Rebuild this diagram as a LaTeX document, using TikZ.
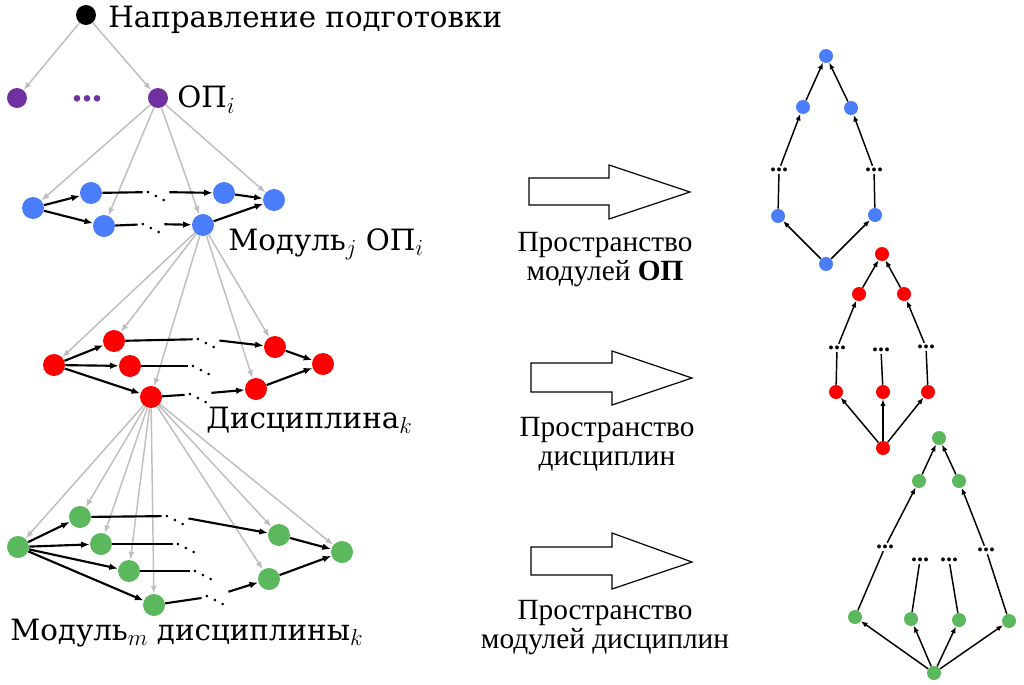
\documentclass[tikz,border=0pt]{standalone}
\usepackage{fontspec}
\setmainfont{Liberation Serif}
\newfontfamily\labelfont{DejaVu Serif}
\usetikzlibrary{arrows.meta}

\definecolor{opviolet}{RGB}{112,48,160}
\definecolor{modblue}{RGB}{74,125,250}
\definecolor{discred}{RGB}{255,0,0}
\definecolor{dmgreen}{RGB}{92,184,92}
\definecolor{linkgray}{RGB}{190,190,190}

\newcommand\idx[1]{\raisebox{-0.35ex}{\fontsize{17}{17}\selectfont$#1$}}

\tikzset{
  vert/.style={circle, inner sep=0pt, minimum size=16.5pt},
  svert/.style={circle, inner sep=0pt, minimum size=10.5pt},
  sub/.style={-{Latex[length=6pt,width=4.5pt]}, draw=linkgray, line width=1.1pt},
  seq/.style={-{Latex[length=6.5pt,width=5pt]}, line width=1.6pt},
  seqline/.style={line width=1.6pt},
  ord/.style={-{Latex[length=5pt,width=4pt]}, line width=1.1pt},
  ordline/.style={line width=1.1pt},
  ddts/.style={inner sep=1pt, font=\fontsize{16}{16}\selectfont},
  cdts/.style={inner sep=1.5pt, font=\fontsize{18}{18}\selectfont\bfseries},
  biglabel/.style={font=\labelfont\fontsize{22}{22}\selectfont, inner sep=0pt},
  spacelabel/.style={font=\fontsize{22}{22}\selectfont, align=center, inner sep=0pt, anchor=north},
  bigarrow/.style={draw=black, line width=0.9pt, fill=white}
}

\begin{document}
\begin{tikzpicture}[x=0.75pt, y=-0.75pt]
    \useasboundingbox (0,0) rectangle (1024,685);

    % hierarchy on the left
    \node[vert, fill=black, minimum size=15pt] (dir) at (86,15) {};
    \node[biglabel, anchor=base west] (dirlbl) at (108,28) {Направление подготовки};
    \node[vert, fill=opviolet, minimum size=15pt] (opa) at (17,98) {};
    \node[vert, fill=opviolet, minimum size=15pt] (opi) at (158,98) {};
    \node[text=opviolet, font=\fontsize{30}{30}\selectfont\bfseries, inner sep=0pt, anchor=base] (opdots) at (87,102) {...};
    \node[biglabel, anchor=base west] (oplbl) at (177,108) {ОП\idx{i}};
    \draw[sub] (dir) -- (opa);
    \draw[sub] (dir) -- (opi);

    % modules of OP
    \node[vert, fill=modblue] (b1) at (33,208) {};
    \node[vert, fill=modblue] (b2) at (91,193) {};
    \node[vert, fill=modblue] (b3) at (104,226) {};
    \node[vert, fill=modblue] (b4) at (224,193) {};
    \node[vert, fill=modblue] (b5) at (203,225) {};
    \node[vert, fill=modblue] (b6) at (274,200) {};
    \node[ddts] (bd1) at (156,192) {$\ddots$};
    \node[ddts] (bd2) at (151,224) {$\ddots$};
    \node[biglabel, anchor=base west] (modlbl) at (228,250) {Модуль\idx{j} ОП\idx{i}};
    \foreach \t in {b1,b3,b5,b6} \draw[sub] (opi) -- (\t);
    \draw[seq] (b1) -- (b2);
    \draw[seq] (b1) -- (b3);
    \draw[seqline] (b2) -- (bd1);
    \draw[seq] (bd1) -- (b4);
    \draw[seqline] (b3) -- (bd2);
    \draw[seq] (bd2) -- (b5);
    \draw[seq] (b4) -- (b6);
    \draw[seq] (b5) -- (b6);

    % disciplines
    \node[vert, fill=discred] (r1) at (54,365) {};
    \node[vert, fill=discred] (r2) at (114,341) {};
    \node[vert, fill=discred] (r3) at (130,366) {};
    \node[vert, fill=discred] (r4) at (151,397) {};
    \node[vert, fill=discred] (r5) at (275,347) {};
    \node[vert, fill=discred] (r6) at (323,364) {};
    \node[vert, fill=discred] (r7) at (256,389) {};
    \node[ddts] (rd1) at (206,339) {$\ddots$};
    \node[ddts] (rd2) at (201,366) {$\ddots$};
    \node[ddts] (rd3) at (198,394) {$\ddots$};
    \node[biglabel, anchor=base west] (disclbl) at (206,428) {Дисциплина\idx{k}};
    \foreach \t in {r1,r2,r4,r5,r7} \draw[sub] (b5) -- (\t);
    \draw[seq] (r1) -- (r2);
    \draw[seq] (r1) -- (r3);
    \draw[seq] (r1) -- (r4);
    \draw[seqline] (r2) -- (rd1);
    \draw[seq] (rd1) -- (r5);
    \draw[seqline] (r3) -- (rd2);
    \draw[seqline] (r4) -- (rd3);
    \draw[seq] (rd3) -- (r7);
    \draw[seq] (r5) -- (r6);
    \draw[seq] (r7) -- (r6);

    % modules of a discipline
    \node[vert, fill=dmgreen] (g1) at (18,547) {};
    \node[vert, fill=dmgreen] (g2) at (80,517) {};
    \node[vert, fill=dmgreen] (g3) at (101,544) {};
    \node[vert, fill=dmgreen] (g4) at (129,571) {};
    \node[vert, fill=dmgreen] (g5) at (154,605) {};
    \node[vert, fill=dmgreen] (g6) at (279,535) {};
    \node[vert, fill=dmgreen] (g7) at (342,552) {};
    \node[vert, fill=dmgreen] (g8) at (269,579) {};
    \node[ddts] (gd1) at (175,516) {$\ddots$};
    \node[ddts] (gd2) at (186,544) {$\ddots$};
    \node[ddts] (gd3) at (203,571) {$\ddots$};
    \node[ddts] (gd4) at (215,596) {$\ddots$};
    \node[biglabel, anchor=base west] (dmlbl) at (10,640) {Модуль\idx{m} дисциплины\idx{k}};
    \foreach \t in {g1,g2,g3,g4,g5,g6,g7,g8} \draw[sub] (r4) -- (\t);
    \foreach \t in {g2,g3,g4,g5} \draw[seq] (g1) -- (\t);
    \draw[seqline] (g2) -- (gd1);
    \draw[seq] (gd1) -- (g6);
    \draw[seqline] (g3) -- (gd2);
    \draw[seqline] (g4) -- (gd3);
    \draw[seqline] (g5) -- (gd4);
    \draw[seq] (gd4) -- (g8);
    \draw[seq] (g6) -- (g7);
    \draw[seq] (g8) -- (g7);

    % block arrows with captions
    \draw[bigarrow] (529,178) -- (609,178) -- (609,165) -- (690,192) -- (609,219) -- (609,205) -- (529,205) -- cycle;
    \node[spacelabel] (sp1) at (605,232) {Пространство\\модулей \textbf{ОП}};
    \draw[bigarrow] (531,363) -- (612,363) -- (612,351) -- (692,378) -- (612,405) -- (612,392) -- (531,392) -- cycle;
    \node[spacelabel] (sp2) at (607,417) {Пространство\\дисциплин};
    \draw[bigarrow] (531,547) -- (612,547) -- (612,533) -- (692,562) -- (612,589) -- (612,575) -- (531,575) -- cycle;
    \node[spacelabel] (sp3) at (605,600) {Пространство\\модулей дисциплин};

    % space of OP modules
    \node[svert, fill=modblue] (ut) at (826,56) {};
    \node[svert, fill=modblue] (ul2) at (803,107) {};
    \node[svert, fill=modblue] (ur2) at (851,108) {};
    \node[cdts] (uld) at (779,170) {...};
    \node[cdts] (urd) at (874,170) {...};
    \node[svert, fill=modblue] (ul3) at (778,216) {};
    \node[svert, fill=modblue] (ur3) at (875,215) {};
    \node[svert, fill=modblue] (ub) at (826,264) {};
    \draw[ord] (ub) -- (ul3);
    \draw[ord] (ub) -- (ur3);
    \draw[ordline] (ul3) -- (uld);
    \draw[ordline] (ur3) -- (urd);
    \draw[ord] (uld) -- (ul2);
    \draw[ord] (urd) -- (ur2);
    \draw[ord] (ul2) -- (ut);
    \draw[ord] (ur2) -- (ut);

    % space of disciplines
    \node[svert, fill=discred] (dt) at (882,254) {};
    \node[svert, fill=discred] (dl2) at (859,294) {};
    \node[svert, fill=discred] (dr2) at (904,294) {};
    \node[cdts] (dld) at (837,348) {...};
    \node[cdts] (dmd) at (881,350) {...};
    \node[cdts] (drd) at (926,347) {...};
    \node[svert, fill=discred] (dl3) at (836,392) {};
    \node[svert, fill=discred] (dm3) at (883,392) {};
    \node[svert, fill=discred] (dr3) at (928,392) {};
    \node[svert, fill=discred] (db) at (883,448) {};
    \foreach \t in {dl3,dm3,dr3} \draw[ord] (db) -- (\t);
    \draw[ordline] (dl3) -- (dld);
    \draw[ordline] (dm3) -- (dmd);
    \draw[ordline] (dr3) -- (drd);
    \draw[ord] (dld) -- (dl2);
    \draw[ord] (drd) -- (dr2);
    \draw[ord] (dl2) -- (dt);
    \draw[ord] (dr2) -- (dt);

    % space of discipline modules
    \node[svert, fill=dmgreen] (mt) at (939,438) {};
    \node[svert, fill=dmgreen] (ml2) at (919,481) {};
    \node[svert, fill=dmgreen] (mr2) at (959,481) {};
    \node[cdts] (md1) at (885,547) {...};
    \node[cdts] (md2) at (920,560) {...};
    \node[cdts] (md3) at (949,560) {...};
    \node[cdts] (md4) at (986,550) {...};
    \node[svert, fill=dmgreen] (m1) at (855,617) {};
    \node[svert, fill=dmgreen] (m2) at (911,619) {};
    \node[svert, fill=dmgreen] (m3) at (959,620) {};
    \node[svert, fill=dmgreen] (m4) at (1009,621) {};
    \node[svert, fill=dmgreen] (mb) at (934,673) {};
    \foreach \t in {m1,m2,m3,m4} \draw[ord] (mb) -- (\t);
    \draw[ordline] (m1) -- (md1);
    \draw[ordline] (m2) -- (md2);
    \draw[ordline] (m3) -- (md3);
    \draw[ordline] (m4) -- (md4);
    \draw[ord] (md1) -- (ml2);
    \draw[ord] (md4) -- (mr2);
    \draw[ord] (ml2) -- (mt);
    \draw[ord] (mr2) -- (mt);
  \end{tikzpicture}
\end{document}
